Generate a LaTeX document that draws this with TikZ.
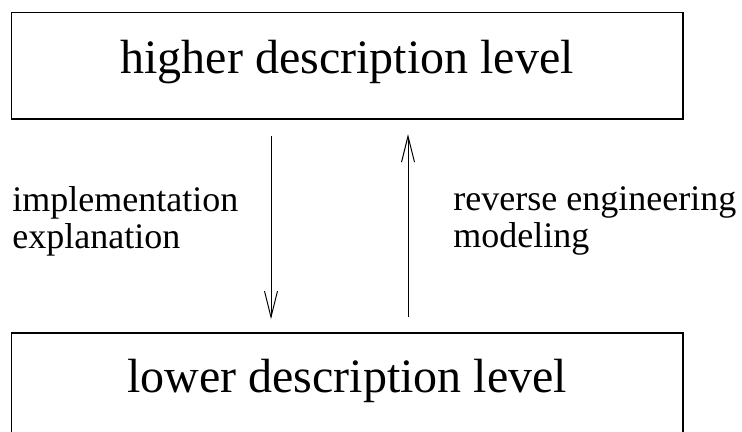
\documentclass[tikz,border=0pt]{standalone}
\usepackage{fontspec}
\setmainfont{Liberation Serif}
\usetikzlibrary{arrows.meta}

\tikzset{
  levelbox/.style={draw, line width=0.8pt, minimum width=335.75pt, minimum height=53.3pt,
    inner sep=0pt, text height=16pt, text depth=8pt, font=\fontsize{24}{28}\selectfont},
  trans/.style={-{Straight Barb[length=13pt,width=6.5pt]}, line width=0.5pt},
  note/.style={anchor=west, align=left, inner sep=0pt, font=\fontsize{18}{18.5}\selectfont}
}

\begin{document}
\begin{tikzpicture}[x=1pt,y=1pt]
\def\xm{173.6}
\def\yh{183}
\def\yl{23.5}
\def\xd{135.5}
\def\xu{204}
\def\ymid{105.4}

\useasboundingbox (0,0) rectangle (371,216);

% the two levels
\node[levelbox] (higher) at (\xm,\yh) {higher description level};
\node[levelbox, minimum height=52pt] (lower) at (\xm,\yl) {lower description level};

% going down and coming back up
\coordinate (dn) at (\xd,0);
\coordinate (up) at (\xu,0);
\draw[trans] ([yshift=-8pt]higher.south -| dn) -- ([yshift=6.5pt]lower.north -| dn);
\draw[trans] ([yshift=7.5pt]lower.north -| up) -- ([yshift=-7pt]higher.south -| up);

\node[note] (impl) at (6,\ymid) {implementation\\explanation};
\node[note] (rev) at (226.5,\ymid) {reverse engineering\\modeling};

\end{tikzpicture}
\end{document}
